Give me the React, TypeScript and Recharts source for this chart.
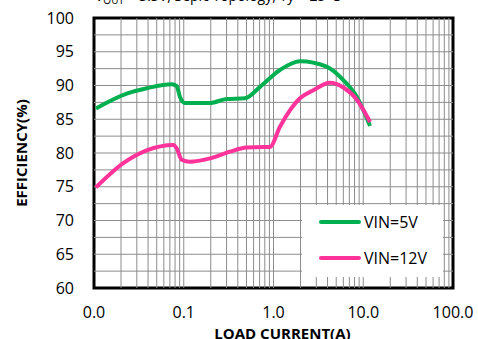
import React from "react";
import {
  LineChart,
  Line,
  XAxis,
  YAxis,
  ReferenceLine,
  ReferenceArea,
} from "recharts";

const xTicks = [0.01, 0.1, 1, 10, 100];
const yTicks = [60, 65, 70, 75, 80, 85, 90, 95, 100];

const vin5Current = [0.0105, 0.0231, 0.0387, 0.0734, 0.0834, 0.0908, 0.103, 0.196, 0.3, 0.479, 0.708, 1.18, 1.97, 3.9, 6.0, 8.5, 11.9];
const vin5Eff = [86.6, 88.8, 89.6, 90.2, 89.9, 88.3, 87.4, 87.4, 88.0, 88.1, 89.8, 92.3, 93.6, 92.8, 90.8, 88.3, 84.0];

const vin12Current = [0.0105, 0.0212, 0.0387, 0.0765, 0.0834, 0.0948, 0.117, 0.196, 0.327, 0.5, 0.77, 0.91, 1.18, 1.97, 2.78, 4.26, 6.0, 8.5, 11.9];
const vin12Eff = [74.9, 78.5, 80.4, 81.2, 80.7, 79.0, 78.7, 79.2, 80.2, 80.8, 80.9, 80.9, 83.9, 88.1, 89.3, 90.4, 89.7, 87.9, 84.6];

const seriesNames = ["VIN=5V", "VIN=12V"];
const seriesColors = ["#00B050", "#FF3399"];

const minorX = [2, 3, 4, 5, 6, 7, 8, 9].flatMap((m) => [0.01, 0.1, 1, 10].map((d) => m * d));
const gridX = [0.1, 1, 10, ...minorX];
const gridY = [62.5, 65, 67.5, 70, 72.5, 75, 77.5, 80, 82.5, 85, 87.5, 90, 92.5, 95, 97.5];

const vin5 = vin5Current.map((x, i) => ({ x, y: vin5Eff[i] }));
const vin12 = vin12Current.map((x, i) => ({ x, y: vin12Eff[i] }));

const FONT = "'Open Sans', sans-serif";

const LegendBox = () => (
  <div
    style={{
      position: "absolute",
      left: 302,
      top: 205,
      background: "#fff",
      width: 141,
      height: 72,
      fontFamily: FONT,
      fontSize: 16,
      color: "#000",
    }}
  >
    {seriesNames.map((t, i) => (
      <div
        key={t}
        style={{ position: "absolute", left: 17, top: (i === 0 ? 17 : 53) - 11, height: 22, display: "flex", alignItems: "center" }}
      >
        <div style={{ width: 42, height: 4, background: seriesColors[i], borderRadius: 2 }} />
        <span style={{ marginLeft: 3, whiteSpace: "nowrap" }}>{t}</span>
      </div>
    ))}
  </div>
);

export default function App() {
  return (
    <div style={{ position: "absolute", left: 0, top: 0, width: 478, height: 339, background: "#fff" }}>
      <LineChart width={478} height={339} margin={{ top: 18, right: 25, bottom: 0, left: 0 }}>
        <text x={95} y={1} fontFamily={FONT} fontSize={14} fill="#000">
          V<tspan fontSize={10} dy={3}>OUT</tspan>
          <tspan dy={-3}> = 3.3V, Sepic Topology, Ty = 25°C</tspan>
        </text>
        <XAxis
          dataKey="x"
          type="number"
          scale="log"
          domain={[0.01, 100]}
          ticks={xTicks}
          allowDataOverflow
          tickFormatter={(v: number) => v.toFixed(1)}
          tick={{ fontFamily: FONT, fontSize: 16, fill: "#000" }}
          tickLine={false}
          axisLine={false}
          tickSize={0}
          tickMargin={19}
          height={51}
          label={{
            value: "LOAD CURRENT(A)",
            position: "insideBottom",
            offset: 0,
            dx: 9,
            style: { fontFamily: FONT, fontSize: 15, fontWeight: "bold", fill: "#000" },
          }}
        />
        <YAxis
          type="number"
          domain={[60, 100]}
          ticks={yTicks}
          tick={{ fontFamily: FONT, fontSize: 16, fill: "#000" }}
          tickLine={false}
          axisLine={false}
          tickSize={0}
          tickMargin={20}
          width={94}
          label={{
            value: "EFFICIENCY(%)",
            angle: -90,
            position: "insideLeft",
            offset: 22,
            style: { fontFamily: FONT, fontSize: 15, fontWeight: "bold", fill: "#000", textAnchor: "middle" },
          }}
        />
        {gridX.map((v) => (
          <ReferenceLine key={"gx" + v} x={v} stroke="#8c8c8c" strokeWidth={1} />
        ))}
        {gridY.map((v) => (
          <ReferenceLine key={"gy" + v} y={v} stroke="#8c8c8c" strokeWidth={1} />
        ))}
        <ReferenceArea x1={0.01} x2={100} y1={60} y2={100} fill="none" stroke="#000" strokeWidth={3} ifOverflow="visible" />
        <Line data={vin5} dataKey="y" type="monotone" stroke={seriesColors[0]} strokeWidth={4} dot={false} isAnimationActive={false} name={seriesNames[0]} />
        <Line data={vin12} dataKey="y" type="monotone" stroke={seriesColors[1]} strokeWidth={4} dot={false} isAnimationActive={false} name={seriesNames[1]} />
      </LineChart>
      <LegendBox />
    </div>
  );
}
